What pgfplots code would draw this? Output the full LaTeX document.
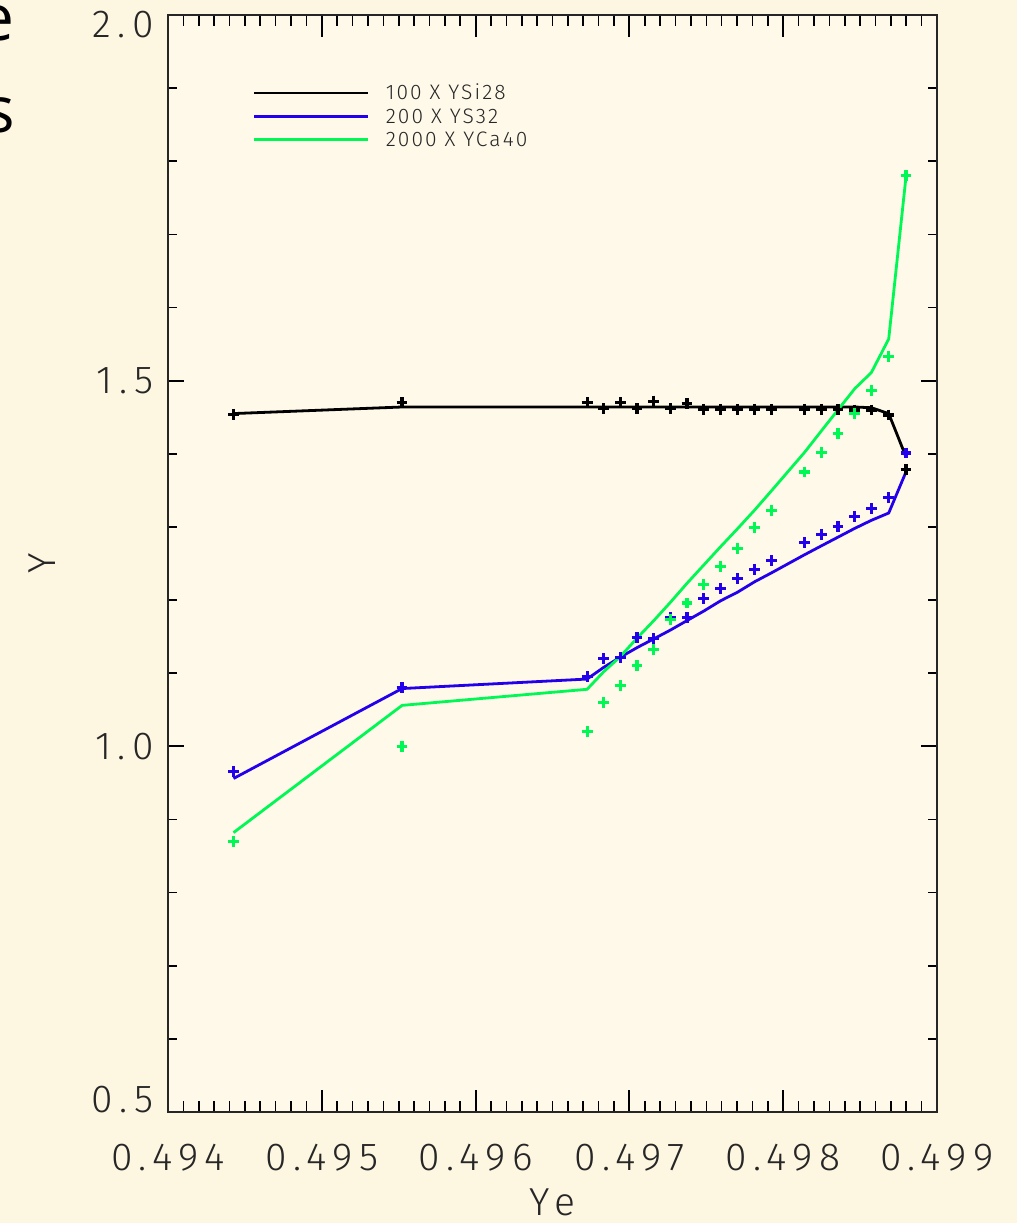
\documentclass[border=0pt]{standalone}
\usepackage{pgfplots}
\pgfplotsset{compat=1.18}
\usepackage{pgfplotstable}
\usepackage{fontspec}
\setmainfont{Fira Sans Light}
\newfontfamily\tickfont{Fira Sans Light}[LetterSpace=17]
\newfontfamily\legfont{Fira Sans Light}[LetterSpace=10]
\newfontfamily\slidefont{Open Sans}
\definecolor{outerbg}{RGB}{253,246,225}
\definecolor{innerbg}{RGB}{255,249,233}
\definecolor{idlblue}{RGB}{35,0,235}
\definecolor{idlgreen}{RGB}{0,248,85}

\pgfplotstableread{
x        bl    bp    ul    up    gl    gp
0.494426 1.455 1.454 0.956 0.966 0.882 0.870
0.495522 1.464 1.470 1.079 1.080 1.056 1.000
0.496725 1.464 1.470 1.092 1.095 1.078 1.020
0.496833 1.464 1.462 1.108 1.120 1.102 1.060
0.496942 1.464 1.470 1.122 1.122 1.123 1.083
0.497050 1.464 1.462 1.135 1.149 1.148 1.110
0.497159 1.464 1.472 1.147 1.147 1.172 1.132
0.497267 1.464 1.462 1.159 1.176 1.197 1.173
0.497375 1.464 1.469 1.172 1.176 1.223 1.196
0.497484 1.464 1.461 1.185 1.202 1.248 1.221
0.497593 1.464 1.461 1.199 1.216 1.273 1.246
0.497705 1.464 1.461 1.211 1.229 1.298 1.271
0.497814 1.464 1.461 1.225 1.242 1.323 1.299
0.497922 1.464 1.461 1.237 1.254 1.349 1.323
0.498139 1.464 1.461 1.262 1.279 1.402 1.375
0.498247 1.464 1.461 1.274 1.290 1.431 1.402
0.498356 1.464 1.461 1.286 1.301 1.460 1.428
0.498465 1.464 1.460 1.298 1.314 1.489 1.455
0.498573 1.463 1.460 1.309 1.325 1.511 1.487
0.498686 1.455 1.453 1.319 1.340 1.557 1.533
0.498798 1.396 1.379 1.375 1.401 1.778 1.780
}\data

\begin{document}
\begin{tikzpicture}
\useasboundingbox (0,0) rectangle (508.5pt,611.5pt);
\fill[outerbg] (0,0) rectangle (508.5pt,611.5pt);
\clip (0,0) rectangle (508.5pt,611.5pt);
\node[anchor=base east, inner sep=0pt, font=\slidefont\fontsize{32}{38}\selectfont] at (7.5pt,591pt) {e};
\node[anchor=base east, inner sep=0pt, font=\slidefont\fontsize{32}{38}\selectfont] at (7.5pt,545pt) {s};
\begin{axis}[
  at={(84pt,55.5pt)}, anchor=south west,
  scale only axis, width=384.5pt, height=548.5pt,
  xmin=0.494, xmax=0.499, ymin=0.5, ymax=2.0,
  scaled x ticks=false, scaled y ticks=false,
  axis background/.style={fill=innerbg},
  axis line style={line width=1.3pt, black!85},
  xtick=\empty,
  ytick={0.5,1.0,1.5,2.0},
  yticklabels={\raisebox{6pt}[\height][\depth]{0.5},1.0,1.5,\raisebox{-5pt}[\height][\depth]{2.0}},
  minor y tick num=4,
  tick align=inside, ytick pos=both,
  major tick length=8pt, minor tick length=4.5pt,
  major tick style={line width=1.1pt, black},
  minor tick style={line width=0.8pt, black},
  yticklabel style={font=\tickfont\fontsize{19.5}{20}\selectfont, text=black!85, inner sep=0pt, xshift=-7pt},
  ylabel={Y},
  ylabel style={at={(axis description cs:-0.1638,0.5)}, anchor=center, font=\tickfont\fontsize{19.5}{20}\selectfont, text=black!85},
  legend cell align=left,
  legend style={draw=none, fill=none, at={(axis description cs:0.1105,0.9353)}, anchor=north west,
    row sep=4.6pt, inner sep=0pt, outer sep=0pt,
    nodes={inner sep=0pt, text height=7pt, text depth=0pt, font=\legfont\fontsize{10.5}{12}\selectfont, text=black!85},
    /tikz/every odd column/.append style={column sep=8pt}},
  legend image code/.code={\draw[#1] (0pt,0pt) -- (57pt,0pt);},
]
\addplot[black, line width=1.4pt, mark=none] table[x=x, y=bl] {\data};
\addlegendentry{100 X YSi28}
\addplot[black, only marks, mark=+, mark size=2.7pt, line width=1.6pt, forget plot] table[x=x, y=bp] {\data};
\addplot[idlblue, line width=1.4pt, mark=none] table[x=x, y=ul] {\data};
\addlegendentry{200 X YS32}
\addplot[idlblue, only marks, mark=+, mark size=2.7pt, line width=1.6pt, forget plot] table[x=x, y=up] {\data};
\addplot[idlgreen, line width=1.4pt, mark=none] table[x=x, y=gl] {\data};
\addlegendentry{2000 X YCa40}
\addplot[idlgreen, only marks, mark=+, mark size=2.7pt, line width=1.6pt, forget plot] table[x=x, y=gp] {\data};
\end{axis}
\begin{axis}[
  at={(84pt,55.5pt)}, anchor=south west,
  scale only axis, width=384.5pt, height=548.5pt,
  xmin=0.494, xmax=0.499, ymin=0.5, ymax=2.0,
  scaled x ticks=false, scaled y ticks=false,
  axis line style={line width=1.3pt, black!85},
  ytick=\empty,
  xtick={0.494,0.495,0.496,0.497,0.498,0.499},
  xticklabels={0.494,0.495,0.496,0.497,0.498,0.499},
  minor x tick num=9,
  tick align=inside, xtick pos=both,
  major tick length=11pt, minor tick length=5.5pt,
  major tick style={line width=1.0pt, black},
  minor tick style={line width=0.8pt, black},
  xticklabel style={font=\tickfont\fontsize{19.5}{20}\selectfont, text=black!85, inner sep=0pt, yshift=-16pt},
  xlabel={Ye},
  xlabel style={at={(axis description cs:0.5,0)}, anchor=center, yshift=-45pt, font=\tickfont\fontsize{19.5}{20}\selectfont, text=black!85},
]
\end{axis}
\end{tikzpicture}
\end{document}
